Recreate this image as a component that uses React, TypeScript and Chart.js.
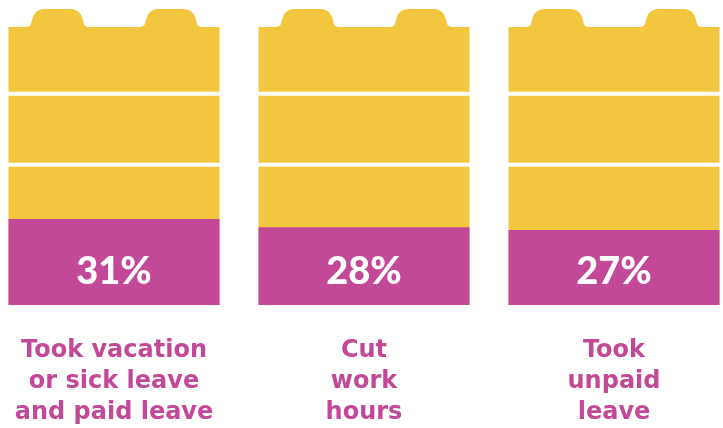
import React, { useEffect, useRef } from "react";
import { Chart, registerables } from "chart.js";

Chart.register(...registerables);

const categories: string[][] = [
  ["Took vacation", "or sick leave", "and paid leave"],
  ["Cut", "work", "hours"],
  ["Took", "unpaid", "leave"],
];
const shareValues: number[] = [31, 28, 27];
const totalValues: number[] = [100, 100, 100];
const brickRows: number[] = [50.5, 76];

const YELLOW = "#F3C63F";
const MAGENTA = "#C24898";
const PCT_FONT = "Lato, 'Open Sans', sans-serif";
const LABEL_FONT = "'DejaVu Sans', sans-serif";

const brickPlugin = {
  id: "brick",
  afterDatasetsDraw(chart: any) {
    const { ctx } = chart;
    const yScale = chart.scales.y;
    const totalMeta = chart.getDatasetMeta(1);
    const shareMeta = chart.getDatasetMeta(0);
    ctx.save();
    totalMeta.data.forEach((bar: any, i: number) => {
      const w = bar.width;
      const L = bar.x - w / 2;
      const yb = bar.y;
      const h = 18;
      const yt = yb - h;
      ctx.fillStyle = YELLOW;
      const bumps = [
        [0.08, 0.384],
        [0.62, 0.92],
      ];
      bumps.forEach(([a, b]) => {
        const xa = L + a * w;
        const xb = L + b * w;
        ctx.beginPath();
        ctx.moveTo(xa, yb + 1);
        ctx.lineTo(xa, yb);
        ctx.quadraticCurveTo(xa + 5, yb, xa + 6, yb - 4);
        ctx.quadraticCurveTo(xa + 8, yt, xa + 19, yt);
        ctx.lineTo(xb - 19, yt);
        ctx.quadraticCurveTo(xb - 8, yt, xb - 6, yb - 4);
        ctx.quadraticCurveTo(xb - 5, yb, xb, yb);
        ctx.lineTo(xb, yb + 1);
        ctx.closePath();
        ctx.fill();
      });
      ctx.fillStyle = "#FFFFFF";
      brickRows.forEach((v) => {
        const py = yScale.getPixelForValue(v);
        ctx.fillRect(L - 1, py - 2, w + 2, 4);
      });
      const sb = shareMeta.data[i];
      ctx.fillStyle = "#FFFFFF";
      ctx.font = `900 38px ${PCT_FONT}`;
      ctx.textAlign = "center";
      ctx.textBaseline = "middle";
      ctx.fillText(`${shareValues[i]}%`, sb.x, yScale.getPixelForValue(0) - 33);
    });
    ctx.restore();
  },
};

export default function App() {
  const ref = useRef<HTMLCanvasElement | null>(null);
  useEffect(() => {
    if (!ref.current) return;
    const chart = new Chart(ref.current, {
      type: "bar",
      data: {
        labels: categories,
        datasets: [
          {
            label: "Share",
            data: shareValues,
            backgroundColor: MAGENTA,
            grouped: false,
            barPercentage: 0.844,
            categoryPercentage: 1,
          } as any,
          {
            label: "Total",
            data: totalValues,
            backgroundColor: YELLOW,
            grouped: false,
            barPercentage: 0.844,
            categoryPercentage: 1,
          } as any,
        ],
      },
      options: {
        animation: false,
        responsive: false,
        maintainAspectRatio: false,
        layout: { padding: { top: 27, bottom: 2, left: 0, right: 0 } },
        plugins: {
          legend: { display: false },
          tooltip: { enabled: false },
        },
        scales: {
          x: {
            grid: { display: false, drawTicks: false },
            border: { display: false },
            afterFit: (scale: any) => {
              scale.paddingLeft = 0;
              scale.paddingRight = 0;
            },
            ticks: {
              color: MAGENTA,
              padding: 30,
              font: { family: LABEL_FONT, size: 24, weight: "bold", lineHeight: 1.29 },
            },
          },
          y: {
            display: false,
            min: 0,
            max: 100,
          },
        },
      },
      plugins: [brickPlugin],
    });
    return () => chart.destroy();
  }, []);
  return (
    <div style={{ position: "fixed", left: 0, top: 0, width: 723, height: 428, overflow: "hidden", background: "#fff" }}>
      <canvas ref={ref} width={750} height={460} style={{ position: "absolute", left: -11, top: 0, width: 750, height: 460 }} />
    </div>
  );
}
